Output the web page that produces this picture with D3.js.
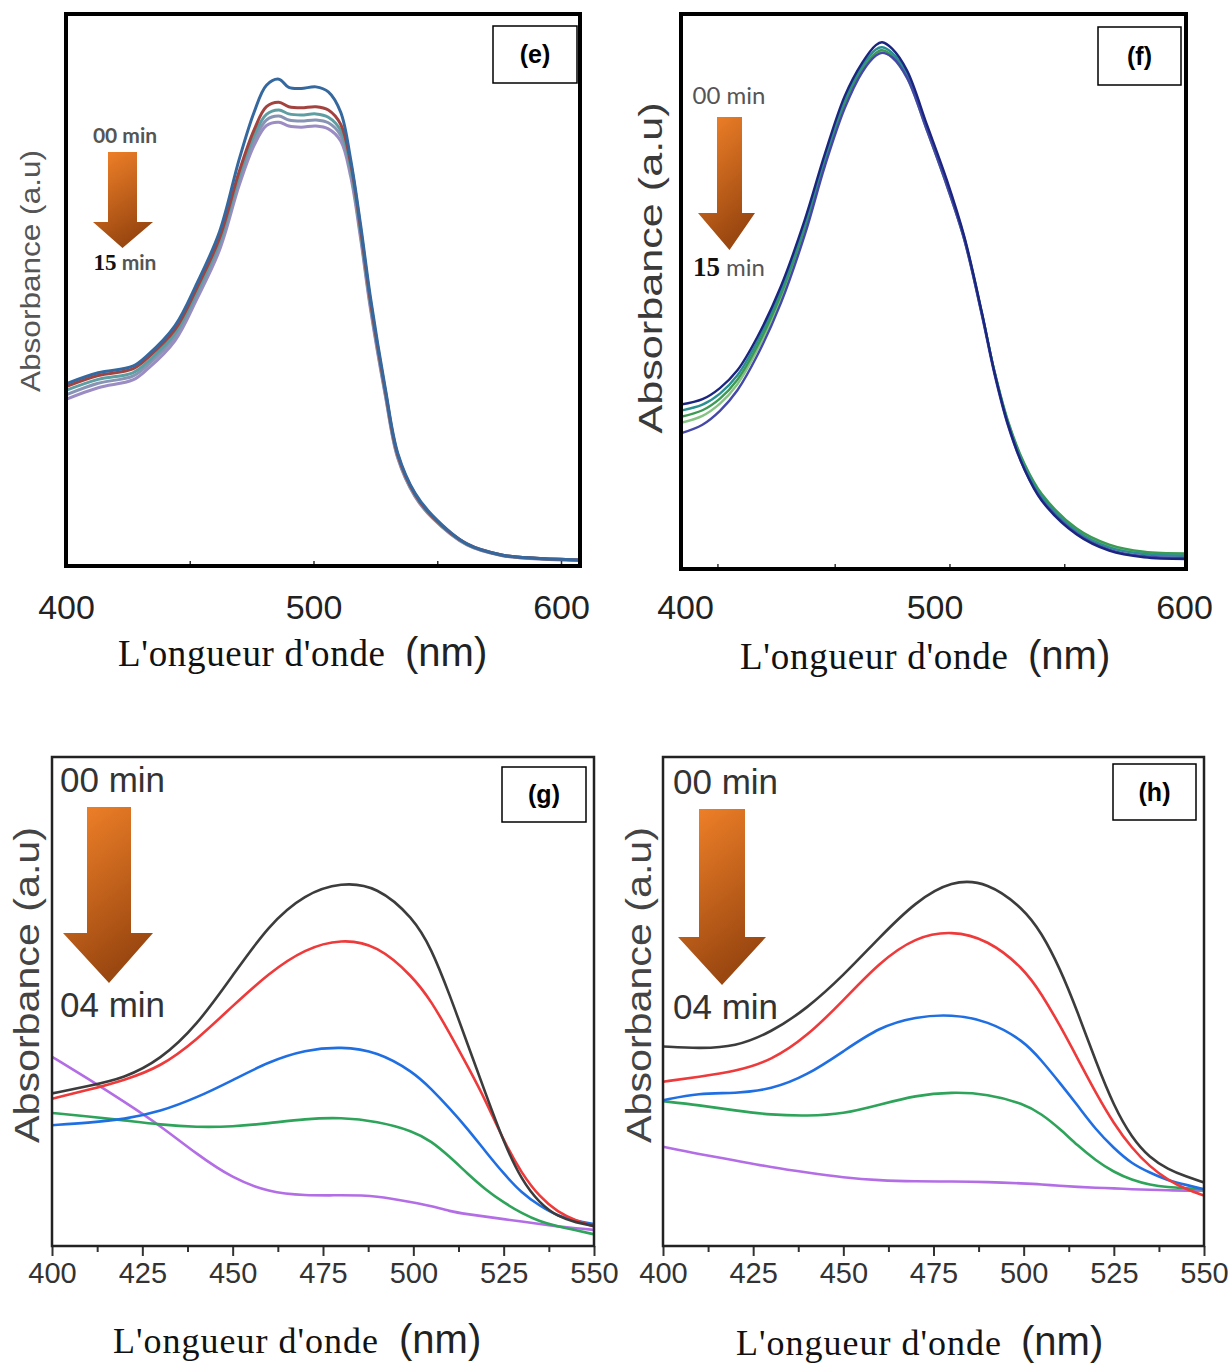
<!DOCTYPE html>
<html>
<head>
<meta charset="utf-8">
<script src="https://cdn.jsdelivr.net/npm/d3@7"></script>
<style>
  body { margin: 0; background: #fff; }
</style>
</head>
<body>
<script>
// ---------- data (absorbance, 0 = frame bottom, 1 = frame top) ----------
var eWave = [400, 413, 427, 433, 444, 453, 462, 470, 476, 481, 486, 490, 495, 501, 506, 511, 515, 519, 523, 529, 534, 541, 548, 562, 576, 590, 608];
var e00 = [0.33, 0.35, 0.362, 0.382, 0.435, 0.513, 0.605, 0.737, 0.822, 0.871, 0.882, 0.867, 0.865, 0.868, 0.859, 0.822, 0.737, 0.619, 0.487, 0.322, 0.205, 0.132, 0.092, 0.04, 0.02, 0.014, 0.011];
var e05 = [0.325, 0.345, 0.357, 0.377, 0.428, 0.505, 0.594, 0.715, 0.79, 0.832, 0.84, 0.832, 0.83, 0.832, 0.826, 0.8, 0.73, 0.612, 0.48, 0.318, 0.202, 0.13, 0.09, 0.04, 0.02, 0.014, 0.011];
var e08 = [0.318, 0.338, 0.35, 0.37, 0.421, 0.498, 0.587, 0.707, 0.78, 0.818, 0.826, 0.819, 0.817, 0.819, 0.813, 0.789, 0.722, 0.606, 0.476, 0.315, 0.2, 0.129, 0.089, 0.039, 0.02, 0.014, 0.011];
var e12 = [0.31, 0.331, 0.344, 0.364, 0.415, 0.492, 0.58, 0.699, 0.771, 0.808, 0.815, 0.808, 0.806, 0.808, 0.803, 0.78, 0.714, 0.6, 0.471, 0.312, 0.198, 0.127, 0.088, 0.039, 0.019, 0.013, 0.01];
var e15 = [0.302, 0.323, 0.337, 0.357, 0.408, 0.485, 0.572, 0.69, 0.762, 0.798, 0.804, 0.797, 0.795, 0.797, 0.792, 0.77, 0.706, 0.594, 0.466, 0.309, 0.196, 0.126, 0.087, 0.038, 0.019, 0.013, 0.01];

var fWave = [398, 407, 414, 421, 429, 438.5, 448, 456, 464, 471, 476.5, 479, 483, 489, 497, 505, 512, 519, 524, 529.5, 536, 543, 557, 570, 584, 601];
var f00 = [0.296, 0.306, 0.326, 0.358, 0.418, 0.51, 0.629, 0.747, 0.852, 0.912, 0.944, 0.949, 0.9375, 0.898, 0.8, 0.70, 0.598, 0.462, 0.355, 0.26, 0.18, 0.123, 0.062, 0.033, 0.021, 0.018];
var f05 = [0.285, 0.296, 0.316, 0.349, 0.41, 0.502, 0.622, 0.741, 0.846, 0.906, 0.936, 0.94, 0.93, 0.892, 0.795, 0.695, 0.596, 0.461, 0.356, 0.263, 0.185, 0.13, 0.068, 0.039, 0.027, 0.024];
var f08 = [0.274, 0.286, 0.307, 0.341, 0.402, 0.495, 0.615, 0.735, 0.84, 0.9, 0.93, 0.935, 0.925, 0.888, 0.792, 0.692, 0.594, 0.46, 0.357, 0.266, 0.19, 0.135, 0.073, 0.044, 0.031, 0.028];
var f12 = [0.263, 0.276, 0.298, 0.333, 0.395, 0.489, 0.609, 0.73, 0.836, 0.897, 0.927, 0.932, 0.922, 0.885, 0.79, 0.69, 0.593, 0.459, 0.356, 0.264, 0.188, 0.133, 0.071, 0.042, 0.029, 0.026];
var f15 = [0.244, 0.26, 0.285, 0.322, 0.385, 0.48, 0.602, 0.725, 0.83, 0.895, 0.925, 0.93, 0.922, 0.885, 0.79, 0.69, 0.592, 0.457, 0.352, 0.258, 0.18, 0.125, 0.064, 0.035, 0.023, 0.02];

var ghWave = [400, 410, 420, 430, 440, 450, 460, 470, 480, 490, 500, 505, 510, 515, 520, 525, 530, 535, 540, 545, 550];
var g0 = [0.312, 0.327, 0.343, 0.381, 0.45, 0.553, 0.657, 0.72, 0.744, 0.736, 0.671, 0.608, 0.515, 0.413, 0.312, 0.212, 0.134, 0.087, 0.06, 0.048, 0.041];
var g1 = [0.301, 0.319, 0.339, 0.366, 0.421, 0.491, 0.558, 0.608, 0.628, 0.616, 0.55, 0.5, 0.436, 0.368, 0.298, 0.215, 0.148, 0.1, 0.069, 0.052, 0.04];
var g2 = [0.247, 0.252, 0.259, 0.275, 0.303, 0.339, 0.377, 0.401, 0.408, 0.398, 0.356, 0.321, 0.282, 0.24, 0.193, 0.148, 0.108, 0.082, 0.061, 0.052, 0.045];
var g3 = [0.272, 0.265, 0.257, 0.248, 0.243, 0.244, 0.251, 0.26, 0.263, 0.255, 0.235, 0.214, 0.183, 0.148, 0.115, 0.089, 0.067, 0.05, 0.04, 0.032, 0.024];
var g4 = [0.387, 0.342, 0.295, 0.246, 0.188, 0.138, 0.11, 0.103, 0.104, 0.103, 0.089, 0.082, 0.071, 0.065, 0.06, 0.055, 0.05, 0.045, 0.04, 0.036, 0.033];

var h0 = [0.408, 0.404, 0.407, 0.437, 0.486, 0.553, 0.631, 0.704, 0.748, 0.745, 0.69, 0.64, 0.569, 0.478, 0.377, 0.286, 0.221, 0.18, 0.157, 0.142, 0.13];
var h1 = [0.336, 0.346, 0.357, 0.379, 0.429, 0.502, 0.58, 0.632, 0.645, 0.627, 0.568, 0.515, 0.452, 0.383, 0.313, 0.25, 0.2, 0.162, 0.135, 0.116, 0.103];
var h2 = [0.298, 0.313, 0.312, 0.32, 0.349, 0.398, 0.448, 0.469, 0.474, 0.461, 0.42, 0.379, 0.334, 0.287, 0.238, 0.2, 0.168, 0.15, 0.134, 0.125, 0.116];
var h3 = [0.296, 0.288, 0.277, 0.268, 0.266, 0.27, 0.289, 0.308, 0.315, 0.311, 0.291, 0.27, 0.24, 0.205, 0.175, 0.151, 0.135, 0.125, 0.12, 0.118, 0.116];
var h4 = [0.203, 0.188, 0.175, 0.161, 0.15, 0.14, 0.134, 0.132, 0.132, 0.131, 0.128, 0.126, 0.123, 0.121, 0.119, 0.118, 0.116, 0.115, 0.114, 0.113, 0.113];

var efTicks = [400, 500, 600];
var eMinor = [450, 500, 550, 600];
var fMinor = [413, 460, 506, 552];
var ghTicks = [400, 425, 450, 475, 500, 525, 550];
var ghMinor = [412.5, 437.5, 462.5, 487.5, 512.5, 537.5];

var SANS = "'Liberation Sans', Arial, sans-serif";
var SERIF = "'Liberation Serif', 'Times New Roman', serif";

var svg = d3.select("body").append("svg")
    .attr("width", 1228)
    .attr("height", 1367)
    .style("background", "#fff");

var defs = svg.append("defs");
var grad = defs.append("linearGradient").attr("id", "arrowGrad")
    .attr("x1", "0").attr("y1", "0").attr("x2", "0.4").attr("y2", "1");
grad.append("stop").attr("offset", "0").attr("stop-color", "#f5842a");
grad.append("stop").attr("offset", "1").attr("stop-color", "#9a4710");

var smoothCurve = d3.curveCatmullRom.alpha(0.5);

var panels = [
  {
    id: "e", fx0: 66, fy0: 14, fx1: 580, fy1: 566, frameW: 4, frameColor: "#000",
    xDom: [400, 600], xRng: [66, 561], wave: eWave, curve: smoothCurve,
    series: [
      {v: e15, c: "#9c8cc4"}, {v: e12, c: "#8894b4"}, {v: e08, c: "#5e9ea2"},
      {v: e05, c: "#a3433f"}, {v: e00, c: "#35689f"}
    ],
    lineW: 3,
    ticks: efTicks, tickFont: 34, tickPad: 29, tickColor: "#222",
    minor: eMinor, minorInside: true,
    ylab: {x: 30, y: 271, len: 242, size: 28, color: "#555"},
    xlab: {x: 118, len: 267, base: 666, nmX: 405, size: 37, nmSize: 40},
    box: {x: 493, y: 26, w: 84, h: 57, t: "(e)"},
    arrow: {sx0: 108, sx1: 137, top: 152, hy: 222, hx0: 93, hx1: 153, tip: 248},
    small: true, topLab: {x: 125, y: 143, t: "00 min"}, botLab: {x: 125, y: 270}
  },
  {
    id: "f", fx0: 681, fy0: 14, fx1: 1186, fy1: 569, frameW: 4, frameColor: "#000",
    xDom: [400, 600], xRng: [685, 1184], wave: fWave, curve: smoothCurve,
    series: [
      {v: f12, c: "#86c383"}, {v: f08, c: "#3c9a52"}, {v: f05, c: "#2a8f90"},
      {v: f15, c: "#4548a8"}, {v: f00, c: "#1b2580"}
    ],
    lineW: 2.4,
    ticks: efTicks, tickFont: 34, tickPad: 26, tickColor: "#222",
    minor: fMinor, minorInside: true,
    ylab: {x: 650, y: 268, len: 331, size: 33, color: "#3a3a3a"},
    xlab: {x: 740, len: 268, base: 669, nmX: 1028, size: 37, nmSize: 40},
    box: {x: 1098, y: 27, w: 83, h: 58, t: "(f)"},
    arrow: {sx0: 717, sx1: 742, top: 117, hy: 213, hx0: 698, hx1: 755, tip: 250},
    small: true, topLab: {x: 729, y: 104, t: "00 min"}, botLab: {x: 729, y: 276}
  },
  {
    id: "g", fx0: 52, fy0: 757, fx1: 594, fy1: 1246, frameW: 2.5, frameColor: "#222",
    xDom: [400, 550], xRng: [52, 594], wave: ghWave, curve: d3.curveBasis,
    series: [
      {v: g4, c: "#b36ee6"}, {v: g3, c: "#2ea35a"}, {v: g2, c: "#1f6fe3"},
      {v: g1, c: "#ee3a3a"}, {v: g0, c: "#3c3c3c"}
    ],
    lineW: 2.6,
    ticks: ghTicks, tickFont: 29, tickPad: 6, tickColor: "#333",
    minor: ghMinor, minorInside: false,
    ylab: {x: 27, y: 985, len: 316, size: 35, color: "#444"},
    xlab: {x: 113, len: 265, base: 1353, nmX: 399, size: 36, nmSize: 40},
    box: {x: 502, y: 767, w: 84, h: 55, t: "(g)"},
    arrow: {sx0: 87, sx1: 131, top: 807, hy: 933, hx0: 63, hx1: 153, tip: 983},
    small: false, topLab: {x: 60, y: 792, t: "00 min"}, botLab: {x: 60, y: 1017, t: "04 min"}
  },
  {
    id: "h", fx0: 663, fy0: 757, fx1: 1204, fy1: 1246, frameW: 2.5, frameColor: "#222",
    xDom: [400, 550], xRng: [663, 1204], wave: ghWave, curve: d3.curveBasis,
    series: [
      {v: h4, c: "#b36ee6"}, {v: h3, c: "#2ea35a"}, {v: h2, c: "#1f6fe3"},
      {v: h1, c: "#ee3a3a"}, {v: h0, c: "#3c3c3c"}
    ],
    lineW: 2.6,
    ticks: ghTicks, tickFont: 29, tickPad: 6, tickColor: "#333",
    minor: ghMinor, minorInside: false,
    ylab: {x: 639, y: 985, len: 316, size: 35, color: "#444"},
    xlab: {x: 736, len: 265, base: 1355, nmX: 1021, size: 36, nmSize: 40},
    box: {x: 1113, y: 764, w: 83, h: 56, t: "(h)"},
    arrow: {sx0: 699, sx1: 745, top: 809, hy: 937, hx0: 678, hx1: 766, tip: 985},
    small: false, topLab: {x: 673, y: 794, t: "00 min"}, botLab: {x: 673, y: 1019, t: "04 min"}
  }
];

panels.forEach(function(p) {
  var g = svg.append("g");
  var x = d3.scaleLinear().domain(p.xDom).range(p.xRng);
  var y = d3.scaleLinear().domain([0, 1]).range([p.fy1, p.fy0]);

  defs.append("clipPath").attr("id", "clip-" + p.id)
    .append("rect")
    .attr("x", p.fx0).attr("y", p.fy0)
    .attr("width", p.fx1 - p.fx0).attr("height", p.fy1 - p.fy0);

  var line = d3.line()
    .x(function(d) { return x(d[0]); })
    .y(function(d) { return y(d[1]); })
    .curve(p.curve);

  g.append("g").attr("clip-path", "url(#clip-" + p.id + ")")
    .selectAll("path")
    .data(p.series)
    .enter()
    .append("path")
    .attr("d", function(s) { return line(d3.zip(p.wave, s.v)); })
    .attr("fill", "none")
    .attr("stroke", function(s) { return s.c; })
    .attr("stroke-width", p.lineW)
    .attr("stroke-linejoin", "round");

  // tick labels
  var ax = g.append("g")
    .attr("transform", "translate(0," + p.fy1 + ")")
    .call(d3.axisBottom(x).tickValues(p.ticks).tickFormat(d3.format("d"))
      .tickSize(p.minorInside ? 0 : 10).tickPadding(p.tickPad));
  ax.select(".domain").remove();
  ax.attr("font-family", SANS).attr("font-size", p.tickFont);
  ax.selectAll("text").attr("fill", p.tickColor);
  ax.selectAll("line").attr("stroke", "#333").attr("stroke-width", 2);

  // minor ticks
  var mn = g.append("g")
    .attr("transform", "translate(0," + p.fy1 + ")")
    .call(d3.axisBottom(x).tickValues(p.minor).tickFormat("")
      .tickSize(p.minorInside ? -5 : 6));
  mn.select(".domain").remove();
  mn.selectAll("line").attr("stroke", "#333").attr("stroke-width", p.minorInside ? 1.5 : 2);

  // frame
  g.append("rect")
    .attr("x", p.fx0).attr("y", p.fy0)
    .attr("width", p.fx1 - p.fx0).attr("height", p.fy1 - p.fy0)
    .attr("fill", "none")
    .attr("stroke", p.frameColor)
    .attr("stroke-width", p.frameW);

  // y title
  g.append("text")
    .attr("transform", "translate(" + p.ylab.x + "," + p.ylab.y + ") rotate(-90)")
    .attr("text-anchor", "middle")
    .attr("dy", "0.35em")
    .attr("font-family", SANS)
    .attr("font-size", p.ylab.size)
    .attr("fill", p.ylab.color)
    .attr("textLength", p.ylab.len)
    .attr("lengthAdjust", "spacingAndGlyphs")
    .text("Absorbance (a.u)");

  // x title
  g.append("text")
    .attr("x", p.xlab.x).attr("y", p.xlab.base)
    .attr("font-family", SERIF)
    .attr("font-size", p.xlab.size)
    .attr("fill", "#111")
    .attr("textLength", p.xlab.len)
    .attr("lengthAdjust", "spacing")
    .text("L'ongueur d'onde");
  g.append("text")
    .attr("x", p.xlab.nmX).attr("y", p.xlab.base)
    .attr("font-family", SANS)
    .attr("font-size", p.xlab.nmSize)
    .attr("fill", "#222")
    .text("(nm)");

  // panel label box
  g.append("rect")
    .attr("x", p.box.x).attr("y", p.box.y)
    .attr("width", p.box.w).attr("height", p.box.h)
    .attr("fill", "#fff").attr("stroke", "#000").attr("stroke-width", 1.5);
  g.append("text")
    .attr("x", p.box.x + p.box.w / 2).attr("y", p.box.y + p.box.h / 2)
    .attr("dy", "0.35em")
    .attr("text-anchor", "middle")
    .attr("font-family", SANS).attr("font-weight", "bold").attr("font-size", 25)
    .attr("fill", "#000")
    .text(p.box.t);

  // time arrow
  var a = p.arrow, mid = (a.sx0 + a.sx1) / 2;
  g.append("path")
    .attr("d", "M" + a.sx0 + "," + a.top + "L" + a.sx1 + "," + a.top + "L" + a.sx1 + "," + a.hy +
      "L" + a.hx1 + "," + a.hy + "L" + mid + "," + a.tip + "L" + a.hx0 + "," + a.hy +
      "L" + a.sx0 + "," + a.hy + "Z")
    .attr("fill", "url(#arrowGrad)");

  if (p.small) {
    var big = p.id === "e" ? 21 : 24;
    g.append("text")
      .attr("x", p.topLab.x).attr("y", p.topLab.y)
      .attr("text-anchor", "middle")
      .attr("font-family", "Lato, 'Open Sans', sans-serif")
      .attr("font-weight", p.id === "e" ? "bold" : "normal")
      .attr("font-size", big)
      .attr("fill", "#555")
      .text(p.topLab.t);
    var t = g.append("text")
      .attr("x", p.botLab.x).attr("y", p.botLab.y)
      .attr("text-anchor", "middle");
    t.append("tspan")
      .attr("font-family", SERIF).attr("font-weight", "bold")
      .attr("font-size", p.id === "e" ? 23 : 27)
      .attr("fill", "#111")
      .text("15");
    t.append("tspan")
      .attr("font-family", "Lato, 'Open Sans', sans-serif")
      .attr("font-weight", p.id === "e" ? "bold" : "normal")
      .attr("font-size", big)
      .attr("fill", "#555")
      .text(" min");
  } else {
    g.append("text")
      .attr("x", p.topLab.x).attr("y", p.topLab.y)
      .attr("font-family", SANS).attr("font-size", 35)
      .attr("fill", "#333")
      .text(p.topLab.t);
    g.append("text")
      .attr("x", p.botLab.x).attr("y", p.botLab.y)
      .attr("font-family", SANS).attr("font-size", 35)
      .attr("fill", "#333")
      .text(p.botLab.t);
  }
});
</script>
</body>
</html>
